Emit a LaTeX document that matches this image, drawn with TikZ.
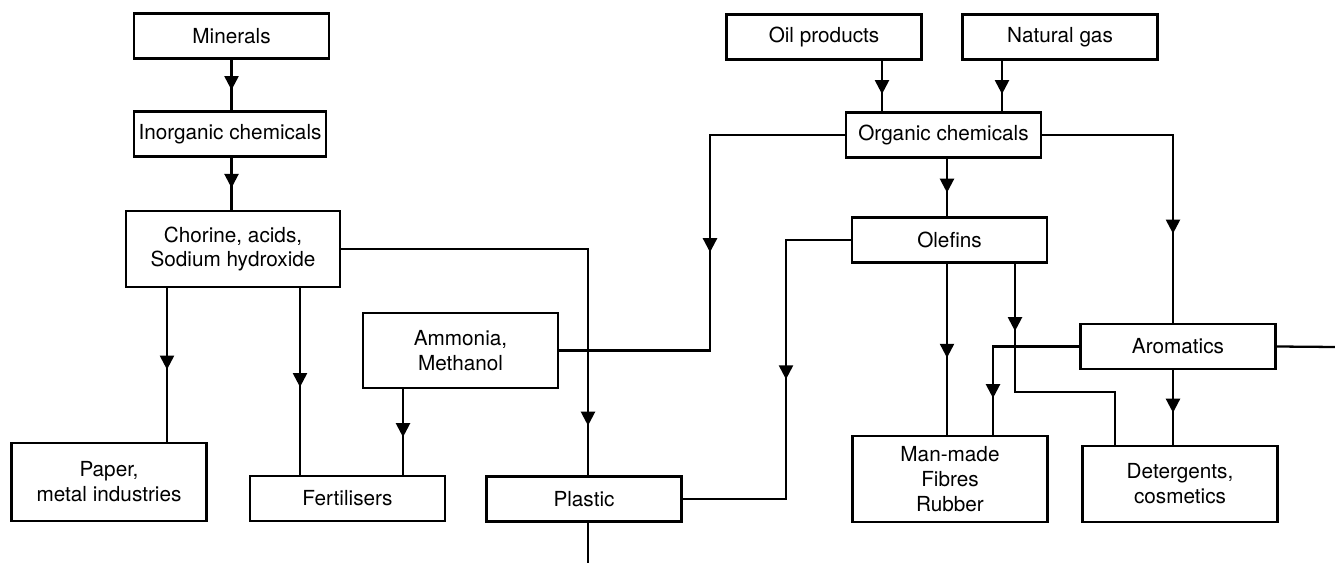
\documentclass[tikz,border=0pt]{standalone}
\usepackage{fontspec}
\setmainfont{TeX Gyre Heros}
\usetikzlibrary{arrows.meta,decorations.markings}
\tikzset{
  box/.style={draw, line width=1.3pt, align=center, inner sep=0pt,
    minimum width=3.9cm, minimum height=.9cm, font=\fontsize{11.8}{14.2}\selectfont},
  flow/.style={postaction={decorate}, decoration={markings,
    mark=at position #1 with {\arrow{Triangle[width=8pt,length=8pt]}}}},
}
\begin{document}
\begin{tikzpicture}[x=0.02cm,y=-0.02cm,line width=1.3pt]
\useasboundingbox (0,0) rectangle (1335,563);
% inorganic side
\node[box] (minerals) at (231.5,36) {Minerals};
\node[box, minimum width=3.84cm] (inorg) at (230,134) {Inorganic chemicals};
\node[box, minimum width=4.28cm, minimum height=1.52cm] (chlor) at (233,249) {Chorine, acids,\\Sodium hydroxide};
\node[box, minimum height=1.5cm] (ammon) at (460.5,350.5) {Ammonia,\\Methanol};
\node[box, minimum height=1.56cm] (paper) at (109,482) {Paper,\\metal industries};
\node[box] (fert) at (347.5,498.5) {Fertilisers};
\node[box] (plastic) at (584,499) {Plastic};
% organic side
\node[box] (oil) at (824,37) {Oil products};
\node[box] (gas) at (1060,37) {Natural gas};
\node[box] (organic) at (943.5,135) {Organic chemicals};
\node[box] (olefins) at (949.5,240) {Olefins};
\node[box] (arom) at (1178,346.5) {Aromatics};
\node[box, minimum height=1.72cm] (fibres) at (950,479) {Man-made\\Fibres\\Rubber};
\node[box, minimum height=1.52cm] (deterg) at (1180,484) {Detergents,\\cosmetics};
% line positions
\coordinate (v1) at (167,0);
\coordinate (v2) at (300,0);
\coordinate (v3) at (588,0);
\coordinate (v4) at (710,0);
\coordinate (v5) at (403,0);
\coordinate (v6) at (786,0);
\coordinate (v7) at (882,0);
\coordinate (v8) at (1002,0);
\coordinate (v9) at (947,0);
\coordinate (v10) at (1173,0);
\coordinate (v11) at (1015,392);
\coordinate (v12) at (1115,0);
\coordinate (v13) at (993,0);
\coordinate (rim) at (1335,347);
\coordinate (floor) at (588,563);
% connectors
\draw[flow=.6] (minerals.south) -- (minerals.south |- inorg.north);
\draw[flow=.58] (inorg.south -| minerals.south) -- (minerals.south |- chlor.north);
\draw[flow=.53] (chlor.south -| v1) -- (paper.north -| v1);
\draw[flow=.53] (chlor.south -| v2) -- (fert.north -| v2);
\draw[flow=.895] (chlor.east) -| (plastic.north -| v3);
\draw[flow=.56] (ammon.south -| v5) -- (fert.north -| v5);
\draw[flow=.503] (organic.west) -| (v4 |- ammon.east) -- (ammon.east);
\draw[flow=.478] (olefins.west) -| (v6 |- plastic.east) -- (plastic.east);
\draw (plastic.south -| floor) -- (floor);
\draw[flow=.66] (oil.south -| v7) -- (organic.north -| v7);
\draw[flow=.66] (gas.south -| v8) -- (organic.north -| v8);
\draw[flow=.59] (organic.south -| v9) -- (olefins.north -| v9);
\draw[flow=.72] (organic.east) -| (arom.north -| v10);
\draw[flow=.55] (olefins.south -| v9) -- (fibres.north -| v9);
\draw[flow=.24] (olefins.south -| v11) -- (v11) -| (deterg.north -| v12);
\draw[flow=.79] (arom.west) -| (fibres.north -| v13);
\draw[flow=.57] (arom.south -| v10) -- (deterg.north -| v10);
\draw (arom.east) -- (rim);
\end{tikzpicture}
\end{document}
